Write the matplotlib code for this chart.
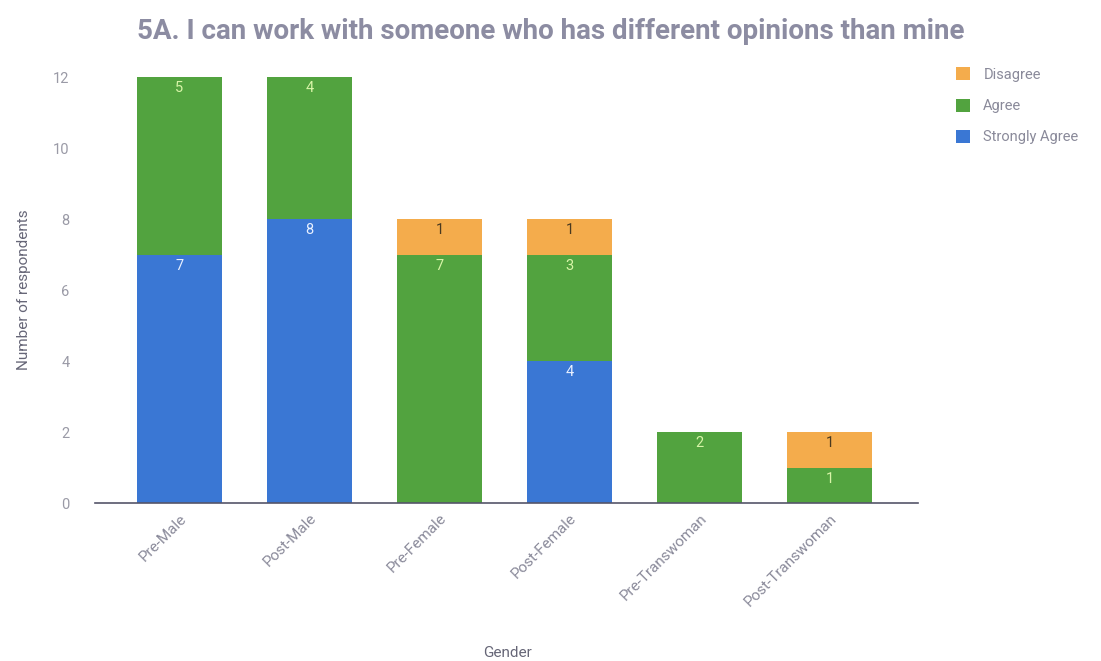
import matplotlib.pyplot as plt
import numpy as np

plt.rcParams["font.family"] = ["Roboto", "DejaVu Sans"]

groups = ["Pre-Male", "Post-Male", "Pre-Female", "Post-Female", "Pre-Transwoman", "Post-Transwoman"]
strongly_agree = [7, 8, 0, 4, 0, 0]
agree = [5, 4, 7, 3, 2, 1]
disagree = [0, 0, 1, 1, 0, 1]

series = [
    ("Strongly Agree", strongly_agree, "#3a77d4", "#e8f0ff"),
    ("Agree", agree, "#52a33f", "#d8f5a8"),
    ("Disagree", disagree, "#f4ac4c", "#4a3a20"),
]

fig = plt.figure(figsize=(11.01, 6.61), dpi=100)
ax = fig.add_axes([0.086, 0.239, 0.748, 0.6445])

x = np.arange(len(groups))
bottom = np.zeros(len(groups))
handles = {}
for name, vals, color, tcolor in series:
    vals = np.array(vals, dtype=float)
    bars = ax.bar(x, vals, width=0.65, bottom=bottom, color=color, edgecolor="none", label=name)
    handles[name] = bars
    for xi, b, v in zip(x, bottom, vals):
        if v > 0:
            ax.text(xi, b + v - 0.12, f"{int(v)}", ha="center", va="top",
                    fontsize=10.5, color=tcolor)
    bottom += vals

ax.set_xlim(-0.65, 5.68)
ax.set_ylim(0, 12)
ax.set_yticks(range(0, 13, 2))
ax.tick_params(axis="y", length=0, labelsize=10.5, labelcolor="#9a9aa6", pad=18)
ax.tick_params(axis="x", length=0, labelsize=11, labelcolor="#8a8a9a", pad=6)
ax.set_xticks(x)
ax.set_xticklabels(groups, rotation=45, ha="right", rotation_mode="anchor")

for side in ["top", "right", "left"]:
    ax.spines[side].set_visible(False)
ax.spines["bottom"].set_color("#55556a")
ax.spines["bottom"].set_linewidth(1.2)

ax.set_ylabel("Number of respondents", fontsize=11, color="#666677", labelpad=16)
fig.text(0.461, 0.002, "Gender", ha="center", va="bottom", fontsize=11, color="#666677")

fig.text(0.50, 0.953, "5A. I can work with someone who has different opinions than mine",
         ha="center", va="center", fontsize=20, fontweight="bold", color="#8c8ca2")

order = ["Disagree", "Agree", "Strongly Agree"]
leg = fig.legend([handles[n] for n in order], order, loc="upper left",
                 bbox_to_anchor=(0.856, 0.918), frameon=False, fontsize=10.5,
                 handlelength=1.0, handleheight=1.0, labelspacing=1.15, handletextpad=0.9)
for t in leg.get_texts():
    t.set_color("#8a8a9a")

fig.savefig("out.png", dpi=100, facecolor="white")
